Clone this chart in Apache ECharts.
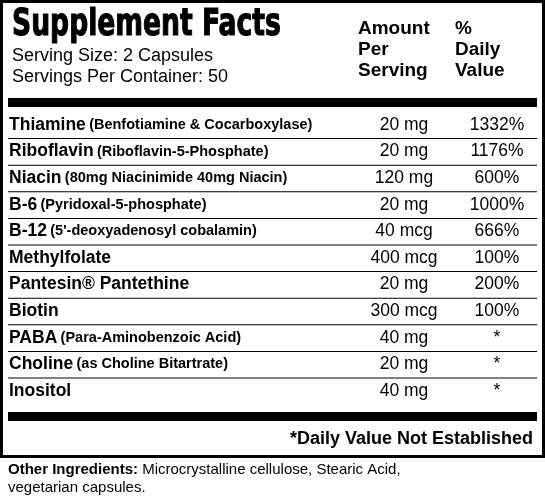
<!DOCTYPE html>
<html><head><meta charset="utf-8">
<script src="https://cdn.jsdelivr.net/npm/echarts@6/dist/echarts.min.js"></script>
<style>html,body{margin:0;padding:0;background:#fff}#c{width:545px;height:500px}</style>
</head><body><div id="c"></div>
<script>
const names = ["Thiamine","Riboflavin","Niacin","B-6","B-12","Methylfolate","Pantesin® Pantethine","Biotin","PABA","Choline","Inositol"];
const details = ["(Benfotiamine & Cocarboxylase)","(Riboflavin-5-Phosphate)","(80mg Niacinimide 40mg Niacin)","(Pyridoxal-5-phosphate)","(5'-deoxyadenosyl cobalamin)","","","","(Para-Aminobenzoic Acid)","(as Choline Bitartrate)",""];
const amounts = ["20 mg","20 mg","120 mg","20 mg","40 mcg","400 mcg","20 mg","300 mcg","40 mg","20 mg","40 mg"];
const dailyValues = ["1332%","1176%","600%","1000%","666%","100%","200%","100%","*","*","*"];

const F = "Liberation Sans, Arial, sans-serif";
const els = [];
els.push({type:'rect',shape:{x:1.5,y:1.5,width:542,height:455},style:{fill:'#fff',stroke:'#000',lineWidth:3}});
els.push({type:'text',x:12,y:6,scaleX:0.7,style:{x:0,y:0,text:'Supplement Facts',font:'bold 38px "DejaVu Sans", sans-serif',fill:'#000',stroke:'#000',lineWidth:1.2}});
els.push({type:'text',style:{x:12,y:46,text:'Serving Size: 2 Capsules\nServings Per Container: 50',font:'18px '+F,lineHeight:21,fill:'#000'}});
els.push({type:'text',style:{x:358,y:18,text:'Amount\nPer\nServing',font:'bold 19px '+F,lineHeight:21,fill:'#000'}});
els.push({type:'text',style:{x:455,y:18,text:'%\nDaily\nValue',font:'bold 19px '+F,lineHeight:21,fill:'#000'}});
els.push({type:'rect',shape:{x:8,y:98,width:529,height:9},style:{fill:'#000'}});
const top0=112, rowH=26.6;
names.forEach((n,i)=>{
  const y=top0+i*rowH;
  els.push({type:'text',style:{x:9,y:y+13,verticalAlign:'middle',text:'{a|'+n+'}'+(details[i]?' {b|'+details[i]+'}':''),
    rich:{a:{font:'bold 17.5px '+F,fill:'#000'},b:{font:'bold 14.5px '+F,fill:'#000'}}}});
  els.push({type:'text',style:{x:404,y:y+13,align:'center',verticalAlign:'middle',text:amounts[i],font:'17.5px '+F,fill:'#000'}});
  els.push({type:'text',style:{x:497,y:y+13,align:'center',verticalAlign:'middle',text:dailyValues[i],font:'17.5px '+F,fill:'#000'}});
  if(i<names.length-1) els.push({type:'rect',shape:{x:8,y:y+rowH-0.5,width:529,height:1},style:{fill:'#000'}});
});
els.push({type:'rect',shape:{x:8,y:412,width:529,height:9},style:{fill:'#000'}});
els.push({type:'text',style:{x:533,y:439,align:'right',verticalAlign:'middle',text:'*Daily Value Not Established',font:'bold 18px '+F,fill:'#000'}});
els.push({type:'text',style:{x:8,y:461,text:'{a|Other Ingredients:} Microcrystalline cellulose, Stearic Acid,\nvegetarian capsules.',
  font:'15px '+F,lineHeight:18,fill:'#000',rich:{a:{font:'bold 15px '+F,fill:'#000'}}}});
const chart=echarts.init(document.getElementById('c'));
chart.setOption({animation:false,graphic:{elements:els}});
</script></body></html>
